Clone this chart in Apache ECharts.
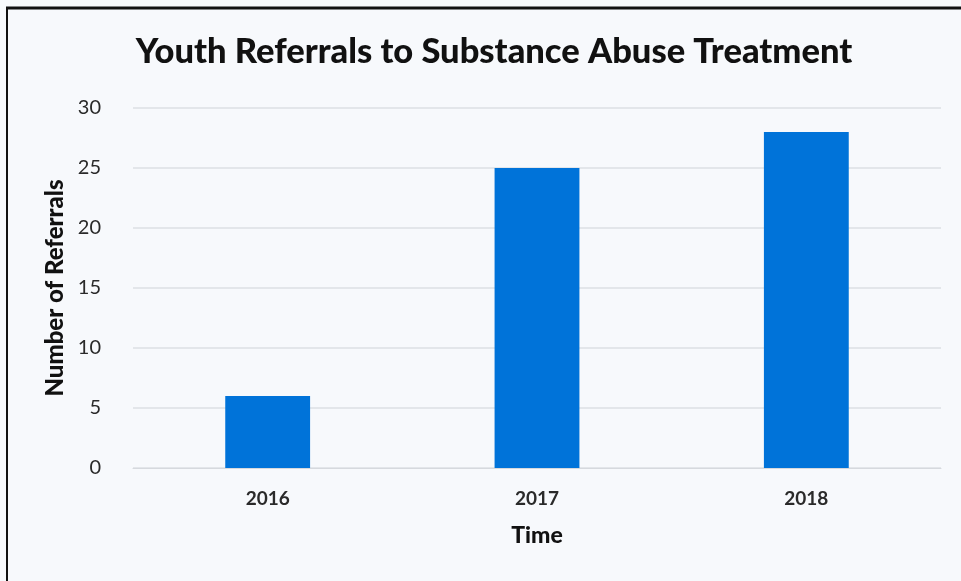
<!DOCTYPE html>
<html><head><meta charset="utf-8">
<script src="https://cdn.jsdelivr.net/npm/echarts@6/dist/echarts.min.js"></script>
<style>html,body{margin:0;padding:0;background:#f7f9fc;}#c{width:961px;height:581px;}</style>
</head><body><div id="c"></div>
<script>
const categories = ['2016', '2017', '2018'];
const referrals = [6, 25, 28];
const yTicks = [0, 5, 10, 15, 20, 25, 30];

const chart = echarts.init(document.getElementById('c'));
chart.setOption({
  backgroundColor: '#f7f9fc',
  animation: false,
  title: {
    text: 'Youth Referrals to Substance Abuse Treatment',
    left: 489, top: 29, textAlign: 'center',
    textStyle: {fontFamily: 'Lato', fontWeight: 900, fontSize: 34.5, color: '#111'}
  },
  graphic: [
    {type: 'line', shape: {x1: 6, y1: 8, x2: 961, y2: 8}, style: {stroke: '#111', lineWidth: 3}},
    {type: 'line', shape: {x1: 7, y1: 8, x2: 7, y2: 581}, style: {stroke: '#111', lineWidth: 2}}
  ],
  grid: {left: 133, right: 20, top: 108, bottom: 113},
  xAxis: {
    type: 'category', data: categories,
    name: 'Time', nameLocation: 'middle', nameGap: 56,
    nameTextStyle: {fontFamily: 'Lato', fontWeight: 900, fontSize: 23, color: '#111'},
    axisLine: {show: true, lineStyle: {color: '#d6d9de'}},
    axisTick: {show: false},
    axisLabel: {margin: 21, fontFamily: 'Lato', fontWeight: 'bold', fontSize: 19, color: '#2a2a2a'}
  },
  yAxis: {
    type: 'value', min: yTicks[0], max: yTicks[yTicks.length - 1], interval: 5,
    name: 'Number of Referrals', nameLocation: 'middle', nameGap: 61, nameRotate: 90,
    nameTextStyle: {fontFamily: 'Lato', fontWeight: 900, fontSize: 24, color: '#111'},
    axisLine: {show: false}, axisTick: {show: false},
    axisLabel: {margin: 32, fontFamily: 'Lato', fontSize: 20, color: '#2a2a2a'},
    splitLine: {lineStyle: {color: '#dcdfe4', width: 1.5}}
  },
  series: [{
    type: 'bar', data: referrals, barWidth: '31.5%',
    itemStyle: {color: '#0073d9'}
  }]
});
</script></body></html>
